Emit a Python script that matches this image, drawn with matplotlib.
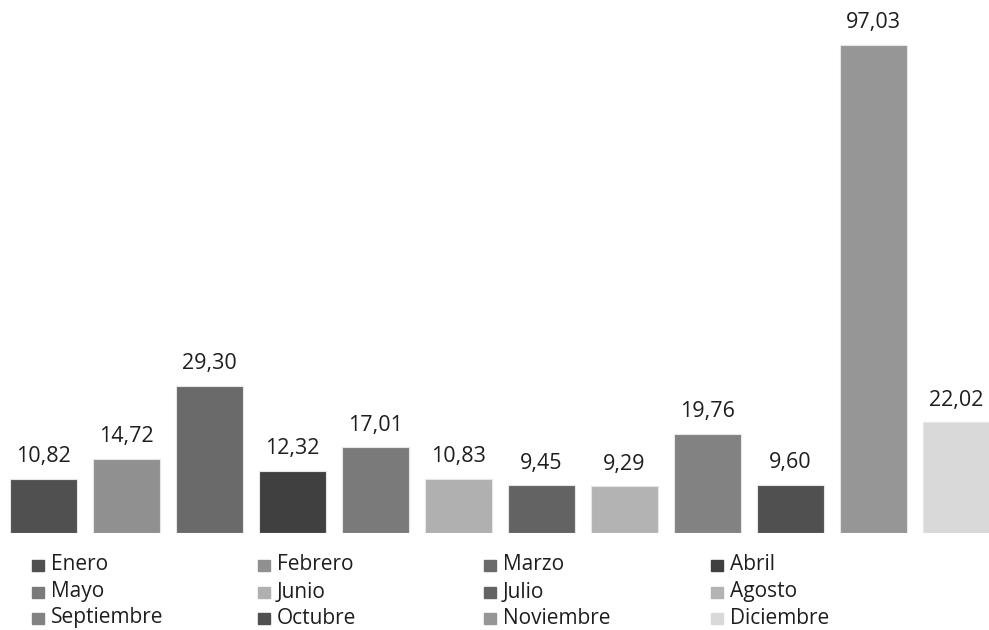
import matplotlib.pyplot as plt
from matplotlib.patches import Rectangle

months = ["Enero", "Febrero", "Marzo", "Abril", "Mayo", "Junio",
          "Julio", "Agosto", "Septiembre", "Octubre", "Noviembre", "Diciembre"]
values = [10.82, 14.72, 29.30, 12.32, 17.01, 10.83,
          9.45, 9.29, 19.76, 9.60, 97.03, 22.02]
colors = ["#505050", "#909090", "#6a6a6a", "#404040", "#7a7a7a", "#b0b0b0",
          "#636363", "#b3b3b3", "#828282", "#505050", "#969696", "#d9d9d9"]

plt.rcParams['font.family'] = ['Open Sans', 'DejaVu Sans']

W, H = 989, 630
fig = plt.figure(figsize=(W / 100, H / 100), dpi=100)
ax = fig.add_axes([0, (H - 533) / H, 1, 533 / H])

x = list(range(len(values)))
bars = ax.bar(x, values, width=0.8, color=colors, edgecolor="#e6e6e6", linewidth=0.8)
for xi, v in zip(x, values):
    ax.annotate(f"{v:.2f}".replace(".", ","), (xi, v), xytext=(0, 12),
                textcoords="offset points", ha="center", va="baseline",
                fontsize=15.5, color="#1e1e1e")

ax.set_xlim(-0.524, 11.39)
ax.set_ylim(0, 106.0)
ax.axis("off")

# legend: 3 rows x 4 columns, row-major
col_x = [32, 258, 484, 711]
row_y = [565, 592, 618]
for i, (name, c) in enumerate(zip(months, colors)):
    r, k = divmod(i, 4)
    px, py = col_x[k], row_y[r]
    fig.add_artist(Rectangle((px / W, (H - py - 5.5) / H), 12 / W, 11 / H,
                             transform=fig.transFigure, color=c))
    fig.text((px + 19) / W, (H - py) / H, name, ha="left", va="center",
             fontsize=15, color="#1e1e1e")

fig.savefig("out.png", dpi=100)
